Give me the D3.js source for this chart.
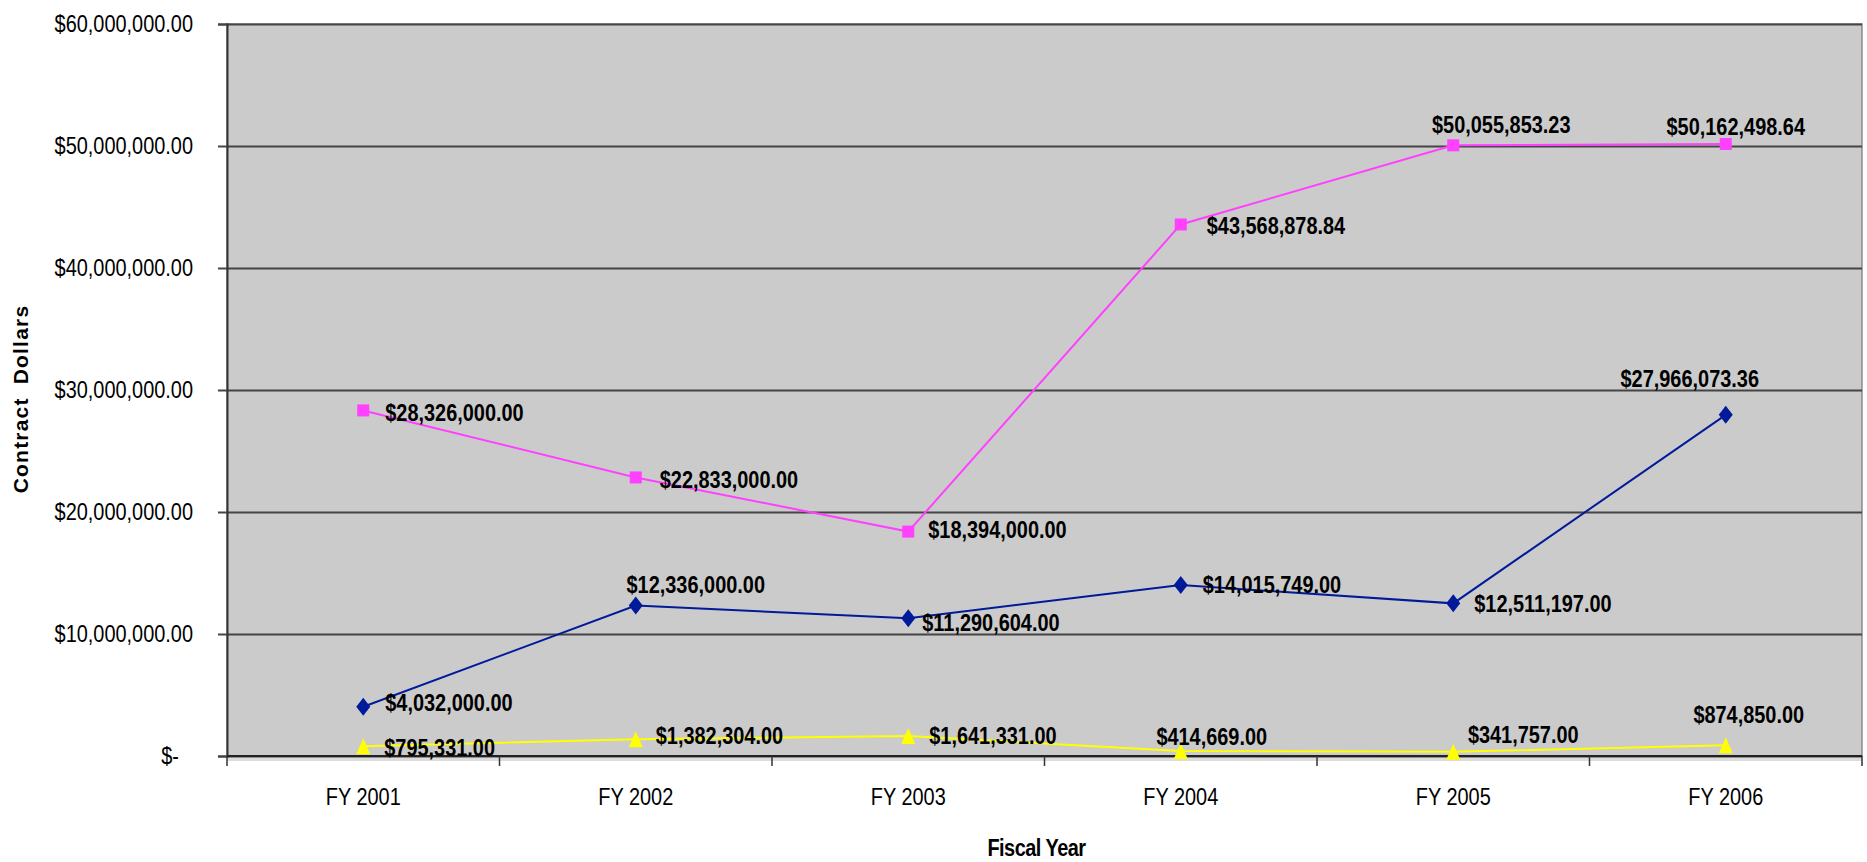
<!DOCTYPE html>
<html>
<head>
<meta charset="utf-8">
<script src="https://cdn.jsdelivr.net/npm/d3@7"></script>
<style>
  html, body { margin: 0; padding: 0; background: #fff; }
  svg { display: block; }
  text { font-family: "Liberation Sans", Arial, sans-serif; }
</style>
</head>
<body>
<svg id="chart"></svg>
<script>
const categories = ['FY 2001', 'FY 2002', 'FY 2003', 'FY 2004', 'FY 2005', 'FY 2006'];
const navyValues = [4032000, 12336000, 11290604, 14015749, 12511197, 27966073.36];
const pinkValues = [28326000, 22833000, 18394000, 43568878.84, 50055853.23, 50162498.64];
const yellowValues = [795331, 1382304, 1641331, 414669, 341757, 874850];
const yTicks = [0, 10000000, 20000000, 30000000, 40000000, 50000000, 60000000];

const width = 1867, height = 862;
const margin = { top: 24, right: 5, bottom: 106, left: 227 };
const squeeze = 0.83; // the original uses a narrow face, fake it by squashing

// where each value label sits relative to its marker: [anchor, dx, dy]
const labelPlacement = {
  navy: [['start', 22, -4], ['middle', 60, -21], ['start', 14, 4], ['start', 22, -1], ['start', 21, 0], ['middle', -36, -36]],
  pink: [['start', 22, 2], ['start', 24, 2], ['start', 20, -2], ['start', 26, 1], ['middle', 48, -21], ['middle', 10, -18]],
  yellow: [['start', 21, 1], ['start', 20, -4], ['start', 21, -1], ['middle', 31, -15], ['middle', 70, -17], ['middle', 23, -31]]
};

const series = [
  { key: 'navy', values: navyValues, color: '#001a99', marker: 'M0,-9L7,0L0,9L-7,0Z' },
  { key: 'pink', values: pinkValues, color: '#ff40ff', marker: 'M-6,-6H6V6H-6Z' },
  { key: 'yellow', values: yellowValues, color: '#ffff00', marker: 'M0,-8L7,8L-7,8Z' }
];

const svg = d3.select('#chart').attr('width', width).attr('height', height);

const x = d3.scaleBand()
  .domain(categories)
  .range([margin.left, width - margin.right]);

const y = d3.scaleLinear()
  .domain([0, 60000000])
  .range([height - margin.bottom, margin.top]);

const money = d3.format('$,.2f');
const x0 = x.range()[0], x1 = x.range()[1];
const yBottom = y(0), yTop = y(60000000);

// plot area
svg.append('rect')
  .attr('x', x0).attr('y', yBottom)
  .attr('width', x1 - x0).attr('height', 5)
  .attr('fill', '#dcdcdc');
svg.append('rect')
  .attr('x', x0).attr('y', yTop)
  .attr('width', x1 - x0).attr('height', yBottom - yTop)
  .attr('fill', '#cbcbcb')
  .attr('stroke', '#8a8a8a')
  .attr('stroke-width', 1.5);

// gridlines
svg.append('g')
  .attr('transform', `translate(${x0},0)`)
  .call(d3.axisLeft(y).tickValues(yTicks).tickSize(-(x1 - x0)).tickFormat(''))
  .call(g => g.select('.domain').remove())
  .call(g => g.selectAll('line').attr('stroke', '#454545').attr('stroke-width', 2));

// y axis
svg.append('g')
  .attr('transform', `translate(${x0},0)`)
  .call(d3.axisLeft(y).tickValues(yTicks).tickSize(9).tickPadding(25)
    .tickFormat(d => d === 0 ? '$-' : money(d)))
  .call(g => g.select('.domain').attr('stroke', '#333').attr('stroke-width', 2))
  .call(g => g.selectAll('line').attr('stroke', '#454545').attr('stroke-width', 2))
  .call(g => g.selectAll('text')
    .attr('font-family', null)
    .attr('font-size', 24)
    .attr('fill', '#000')
    .attr('x', d => (-34 - (d === 0 ? 14 : 0)) / squeeze)
    .attr('transform', `scale(${squeeze},1)`));

// x axis labels
svg.append('g')
  .attr('transform', `translate(0,${yBottom})`)
  .call(d3.axisBottom(x).tickSize(0).tickPadding(32))
  .call(g => g.select('.domain').remove())
  .call(g => g.selectAll('text')
    .attr('font-family', null)
    .attr('font-size', 24)
    .attr('fill', '#000')
    .attr('transform', `scale(${squeeze},1)`));

// x axis line with ticks between categories
const xAxis = svg.append('g');
xAxis.append('line')
  .attr('x1', x0).attr('x2', x1)
  .attr('y1', yBottom).attr('y2', yBottom)
  .attr('stroke', '#222').attr('stroke-width', 2);
xAxis.selectAll('.xtick')
  .data(categories.map(c => x(c)).concat([x1]))
  .enter().append('line')
  .attr('class', 'xtick')
  .attr('x1', d => d).attr('x2', d => d)
  .attr('y1', yBottom).attr('y2', yBottom + 10)
  .attr('stroke', '#333').attr('stroke-width', 1.5);

// axis titles
svg.append('text')
  .attr('transform', `translate(28,${(yTop + yBottom) / 2 + 9}) rotate(-90)`)
  .attr('text-anchor', 'middle')
  .attr('font-weight', 'bold')
  .attr('font-size', 21)
  .attr('letter-spacing', 1.2)
  .attr('word-spacing', 6)
  .text('Contract Dollars');

svg.append('text')
  .attr('transform', `translate(${(x0 + x1) / 2 - 8},856) scale(${squeeze},1)`)
  .attr('text-anchor', 'middle')
  .attr('font-weight', 'bold')
  .attr('font-size', 24)
  .attr('letter-spacing', -0.6)
  .text('Fiscal Year');

const cx = c => x(c) + x.bandwidth() / 2;
const line = d3.line()
  .x((d, i) => cx(categories[i]))
  .y(d => y(d));

series.forEach(s => {
  svg.append('path')
    .datum(s.values)
    .attr('fill', 'none')
    .attr('stroke', s.color)
    .attr('stroke-width', 2)
    .attr('d', line);

  svg.selectAll(`.m-${s.key}`)
    .data(s.values)
    .enter().append('path')
    .attr('class', `m-${s.key}`)
    .attr('transform', (d, i) => `translate(${cx(categories[i])},${y(d)})`)
    .attr('fill', s.color)
    .attr('d', s.marker);
});

series.forEach(s => {
  const place = labelPlacement[s.key];
  svg.selectAll(`.l-${s.key}`)
    .data(s.values)
    .enter().append('text')
    .attr('class', `l-${s.key}`)
    .attr('transform', (d, i) =>
      `translate(${cx(categories[i]) + place[i][1]},${y(d) + place[i][2]}) scale(${squeeze},1)`)
    .attr('dy', '0.36em')
    .attr('text-anchor', (d, i) => place[i][0])
    .attr('font-weight', 'bold')
    .attr('font-size', 24)
    .attr('fill', '#000')
    .text(d => money(d));
});
</script>
</body>
</html>
